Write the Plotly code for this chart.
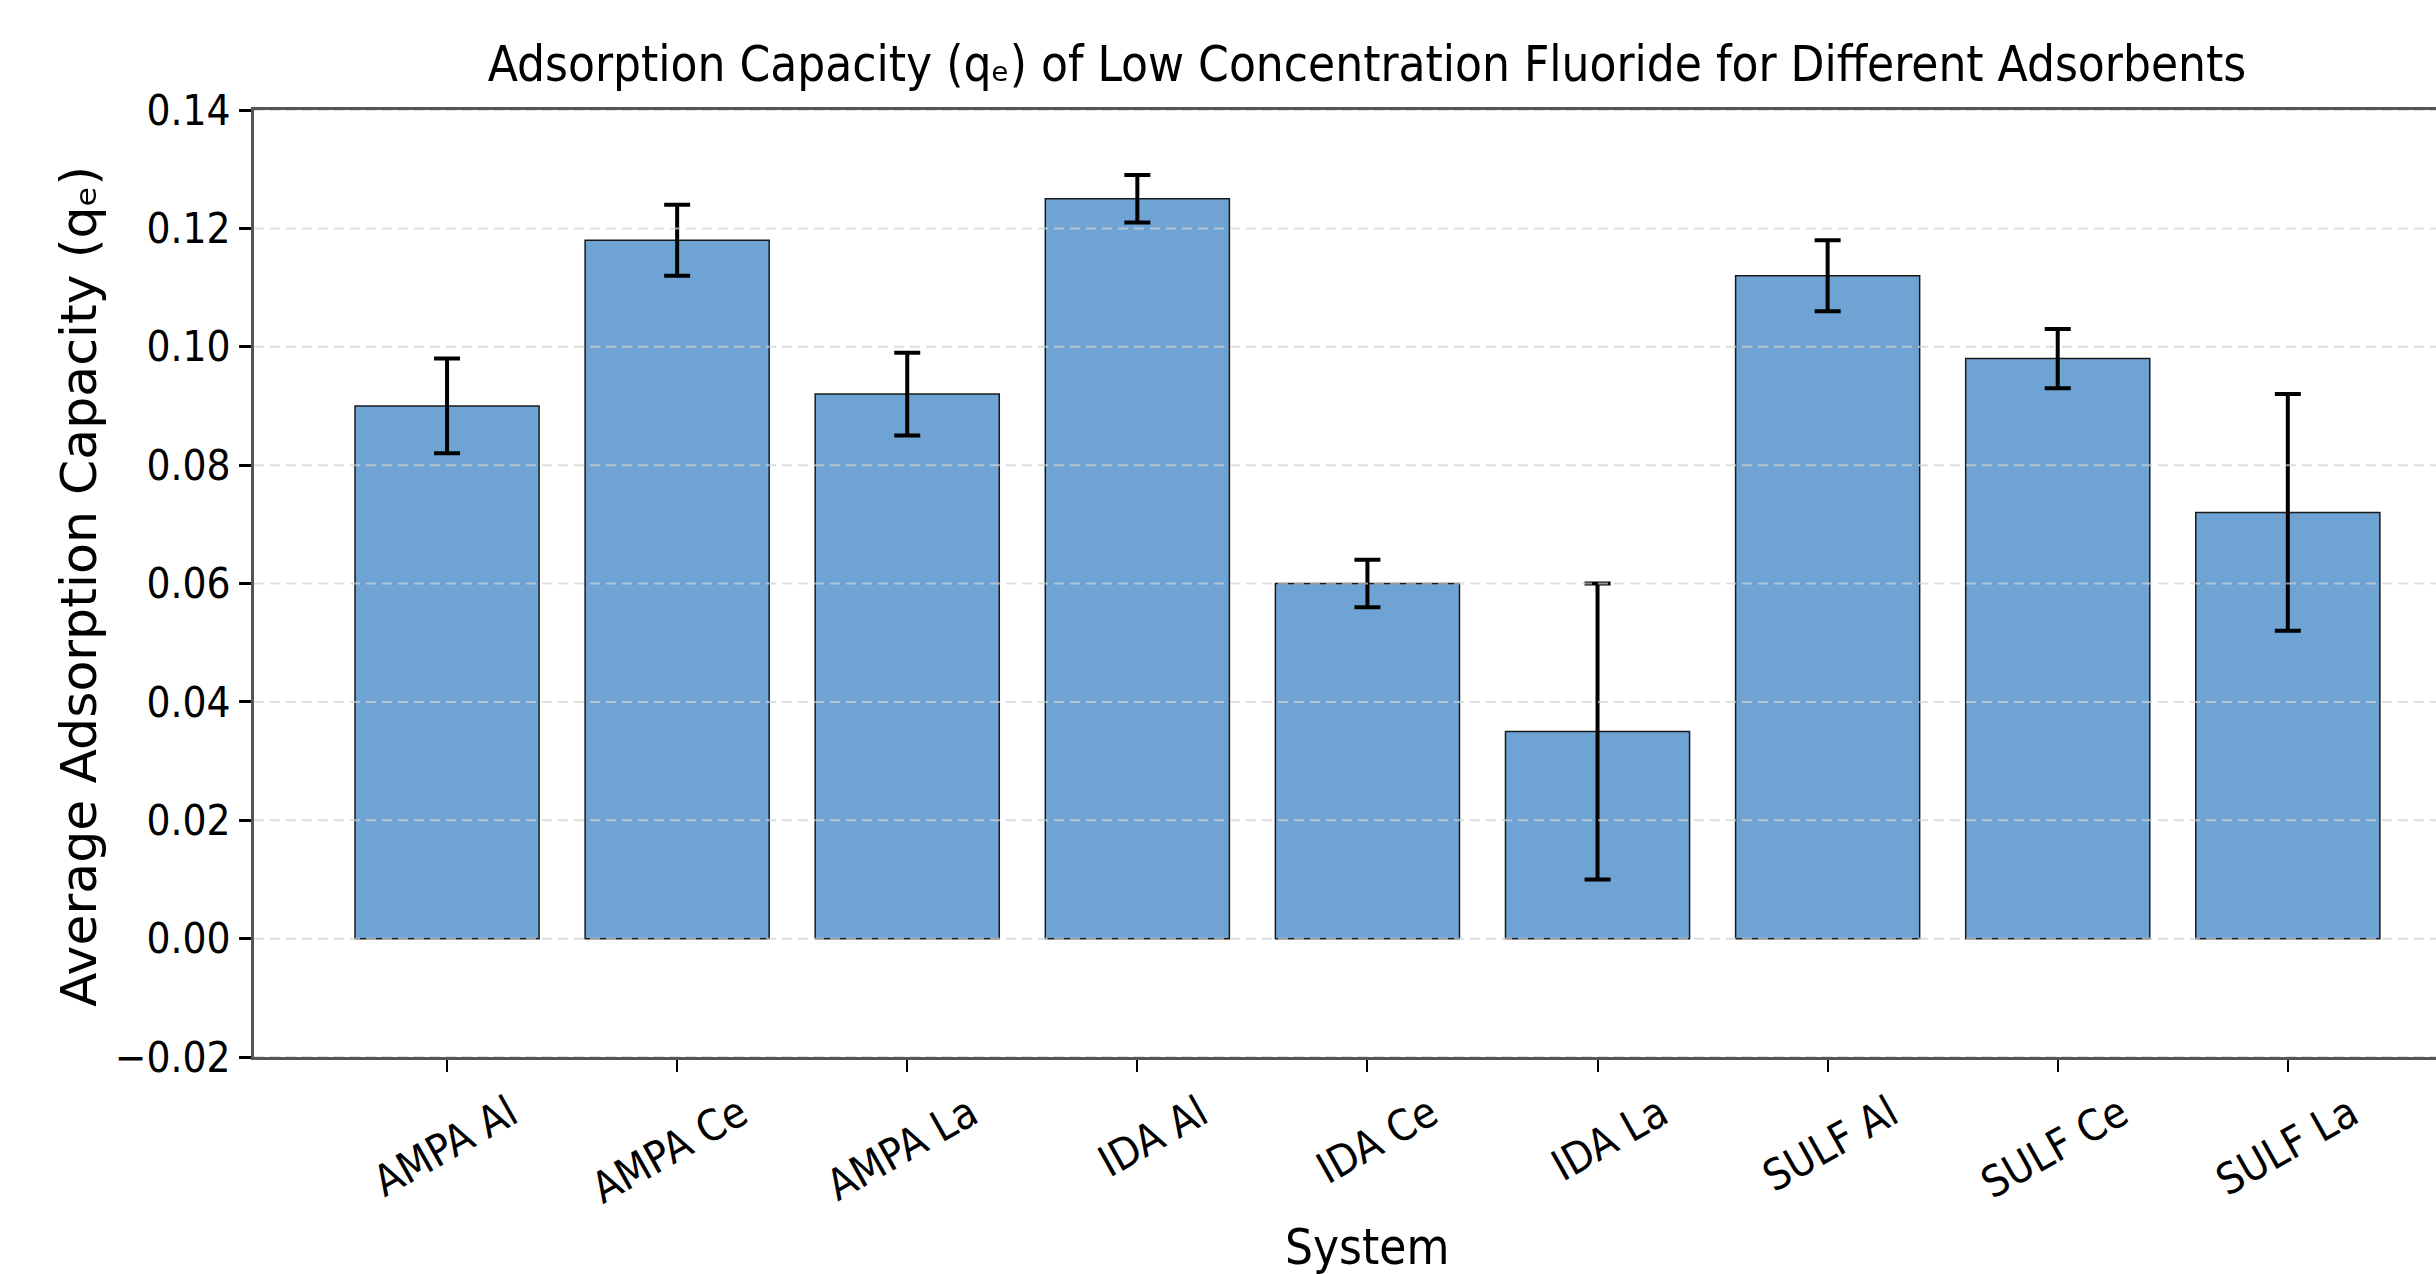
import plotly.graph_objects as go

categories = ["AMPA Al", "AMPA Ce", "AMPA La", "IDA Al", "IDA Ce", "IDA La", "SULF Al", "SULF Ce", "SULF La"]
mean_qe = [0.090, 0.118, 0.092, 0.125, 0.060, 0.035, 0.112, 0.098, 0.072]
std_qe = [0.008, 0.006, 0.007, 0.004, 0.004, 0.025, 0.006, 0.005, 0.020]
y_ticks = [-0.02, 0.00, 0.02, 0.04, 0.06, 0.08, 0.10, 0.12, 0.14]

COND = "DejaVu Sans Condensed, DejaVu Sans, sans-serif"
REG = "DejaVu Sans, sans-serif"

fig = go.Figure()
fig.add_trace(go.Bar(
    x=categories, y=mean_qe, width=0.8,
    marker=dict(color="#6fa3d4", line=dict(color="#1a1a1a", width=1.5)),
    error_y=dict(type="data", array=std_qe, visible=True, color="black", thickness=4, width=13),
))

for v in y_ticks:
    fig.add_shape(type="line", xref="paper", x0=0, x1=1, yref="y", y0=v, y1=v,
                  line=dict(color="rgba(210,210,210,0.7)", width=2, dash="10px,6px"), layer="above")

fig.update_layout(
    width=2436, height=1274,
    margin=dict(l=254, r=0, t=110, b=217),
    plot_bgcolor="white", paper_bgcolor="white",
    showlegend=False,
    bargap=0.2,
    title=dict(text="Adsorption Capacity (qₑ) of Low Concentration Fluoride for Different Adsorbents",
               x=0.5101, xref="paper", xanchor="center", y=1 - 64 / 1274, yref="container", yanchor="middle",
               font=dict(family=COND, size=49, color="black")),
)
fig.update_xaxes(
    type="category", range=[-0.839, 8.644],
    showline=True, linecolor="#555555", linewidth=3, mirror=True,
    ticks="outside", ticklen=12, tickwidth=2, tickcolor="black",
    tickangle=-29.5, tickfont=dict(family=COND, size=43, color="black"),
    ticklabelshift=63,
    showgrid=False, zeroline=False,
)
fig.update_yaxes(
    range=[-0.02, 0.14], tickmode="array", tickvals=y_ticks, tickformat=".2f",
    showline=True, linecolor="#555555", linewidth=3, mirror=False,
    ticks="outside", ticklen=12, tickwidth=2.5, tickcolor="black",
    tickfont=dict(family=COND, size=42, color="black"),
    showgrid=False, zeroline=False,
)
fig.add_annotation(text="System", xref="paper", yref="paper", x=0.5101, y=(1057 - 1247) / 947,
                   xanchor="center", yanchor="middle", showarrow=False,
                   font=dict(family=COND, size=49, color="black"))
fig.add_annotation(text="Average Adsorption Capacity (qₑ)", xref="paper", yref="paper",
                   x=(78 - 254) / 2182, y=(1057 - 587) / 947, textangle=-90,
                   xanchor="center", yanchor="middle", showarrow=False,
                   font=dict(family=REG, size=50.5, color="black"))

fig.write_html("out.html", config={"displayModeBar": False},
               post_script="document.body.style.margin='0';document.body.style.overflow='hidden';")
